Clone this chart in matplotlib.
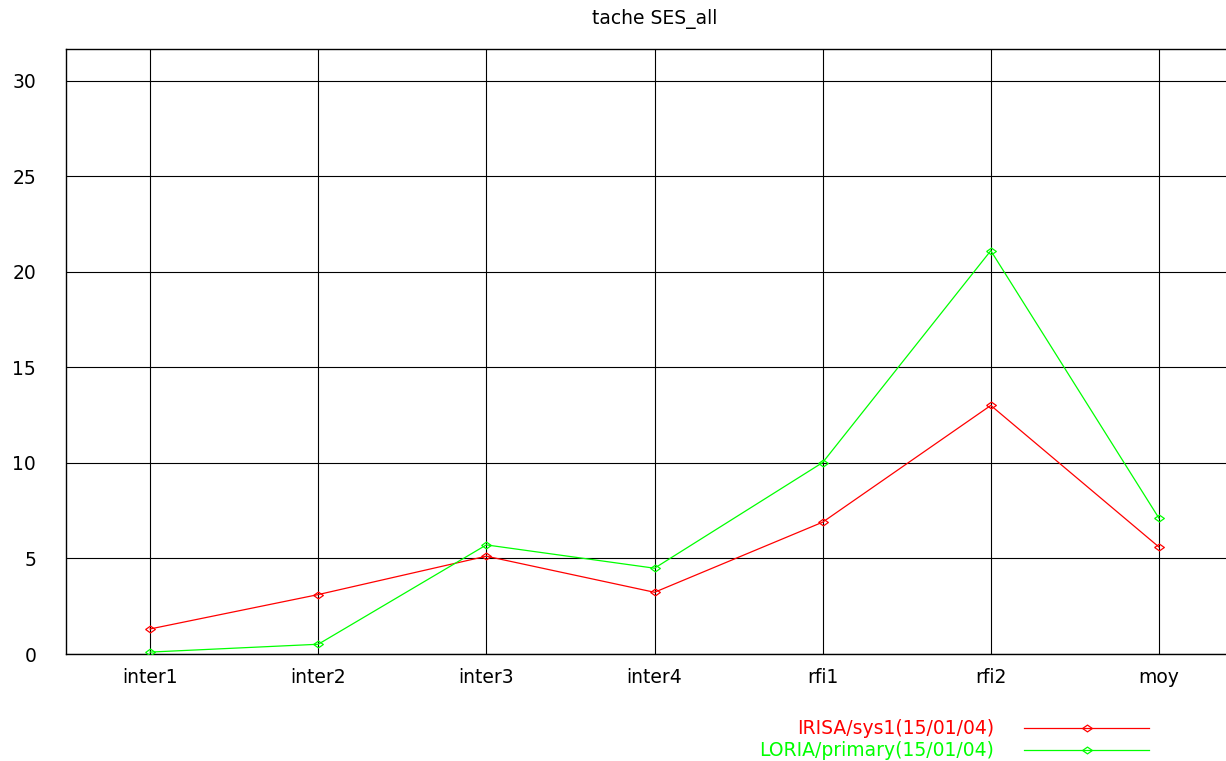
import matplotlib
matplotlib.use("Agg")
import matplotlib.pyplot as plt
from matplotlib.lines import Line2D
import numpy as np

categories = ["inter1", "inter2", "inter3", "inter4", "rfi1", "rfi2", "moy"]
irisa = [1.31, 3.11, 5.12, 3.23, 6.90, 13.01, 5.60]
loria = [0.10, 0.51, 5.71, 4.49, 10.02, 21.11, 7.11]
series_names = ["IRISA/sys1(15/01/04)", "LORIA/primary(15/01/04)"]
yticks = [0, 5, 10, 15, 20, 25, 30]
title = "tache SES_all"

RED = "#ff0000"
GREEN = "#00ff00"
FS = 13.5

plt.rcParams["font.family"] = ["DejaVu Sans"]

W, H = 1226, 761
fig = plt.figure(figsize=(W / 100, H / 100), dpi=100)
ax = fig.add_axes([66 / W, 1 - 654 / H, (1243 - 66) / W, (654 - 49) / H])

diamond = [(-1, 0), (0, 0.7), (1, 0), (0, -0.7), (-1, 0)]
x = np.arange(len(categories))
for vals, col in ((irisa, RED), (loria, GREEN)):
    ax.plot(x, vals, color=col, lw=0.9, marker=diamond, markersize=7,
            markerfacecolor="none", markeredgecolor=col, markeredgewidth=0.9,
            zorder=3)

ax.set_xlim(-0.5, len(categories) - 0.5)
ax.set_ylim(0, 1.5 * max(max(irisa), max(loria)))
ax.set_xticks(x)
ax.set_xticklabels(categories, fontsize=FS)
ax.set_yticks(yticks)
ax.set_yticklabels([str(v) for v in yticks], fontsize=FS)
ax.tick_params(axis="x", length=0, pad=10)
ax.tick_params(axis="y", length=0, pad=21.5)
ax.grid(True, color="black", lw=0.8)
ax.set_axisbelow(True)
for s in ("left", "top", "bottom"):
    ax.spines[s].set_color("black")
    ax.spines[s].set_linewidth(1.0)
ax.spines["right"].set_visible(False)

fig.text(654.5 / W, 1 - 19 / H, title, ha="center", va="center", fontsize=FS)

# legend (manual, right-aligned text)
for name, col, yc in ((series_names[0], RED, 728), (series_names[1], GREEN, 750)):
    fy = 1 - yc / H
    fig.text(994 / W, fy, name, ha="right", va="center", color=col, fontsize=FS)
    fig.add_artist(Line2D([1024 / W, 1149 / W], [fy, fy], color=col, lw=0.9,
                          transform=fig.transFigure))
    fig.add_artist(Line2D([1087 / W], [fy], color=col, marker=diamond,
                          markersize=7, markerfacecolor="none",
                          markeredgewidth=0.9, transform=fig.transFigure))

fig.savefig("out.png", dpi=100)
